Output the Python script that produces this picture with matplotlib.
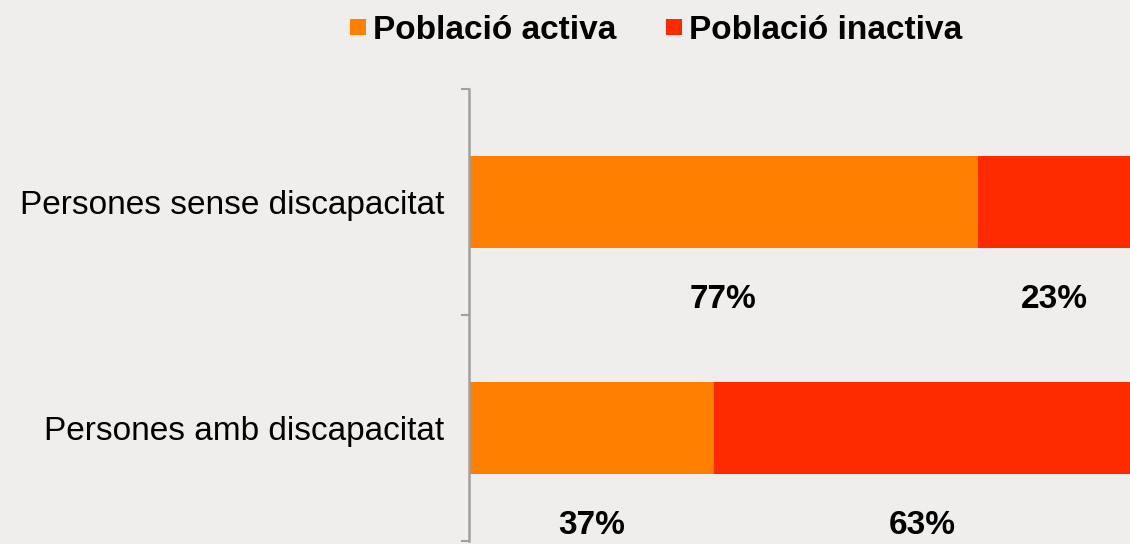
import matplotlib.pyplot as plt
from matplotlib.lines import Line2D

# dades
categories = ['Persones sense discapacitat', 'Persones amb discapacitat']
activa = [77, 37]
inactiva = [23, 63]
series_names = ['Població activa', 'Població inactiva']
colors = ['#ff7f00', '#ff2b00']

plt.rcParams['font.family'] = ['Liberation Sans', 'DejaVu Sans']

fig = plt.figure(figsize=(11.3, 5.44), dpi=100)
fig.patch.set_facecolor('#efeeec')
ax = fig.add_axes([469 / 1130, 3 / 544, 1 - 469 / 1130, 452 / 544])
ax.set_facecolor('none')

y = list(range(len(categories)))
act = [v / 100 for v in activa]
inact = [v / 100 for v in inactiva]
ax.barh(y, act, height=0.41, color=colors[0])
ax.barh(y, inact, left=act, height=0.41, color=colors[1])

# etiquetes de percentatge sota les barres
for i in y:
    ax.text(act[i] / 2, i + 0.43, f'{activa[i]}%', ha='center', va='center',
            fontsize=24, fontweight='bold', clip_on=False)
    ax.text(act[i] + inact[i] / 2, i + 0.43, f'{inactiva[i]}%', ha='center', va='center',
            fontsize=24, fontweight='bold', clip_on=False)

ax.set_xlim(0, 1)
ax.set_ylim(1.5, -0.5)
ax.set_yticks([-0.5, 0.5, 1.5])
ax.set_yticklabels([])
ax.set_yticks(y, minor=True)
ax.set_yticklabels(categories, minor=True, fontsize=24)
ax.tick_params(axis='y', which='major', length=6, width=1.5, color='#a0a0a0')
ax.tick_params(axis='y', which='minor', length=0, pad=18)
ax.set_xticks([])
for s in ['top', 'right', 'bottom']:
    ax.spines[s].set_visible(False)
ax.spines['left'].set_color('#a0a0a0')
ax.spines['left'].set_linewidth(1.8)

handles = [Line2D([], [], marker='s', linestyle='none', markersize=11.5,
                  markeredgewidth=0, color=c) for c in colors]
leg = fig.legend(handles, series_names, loc='center', bbox_to_anchor=(656 / 1130, 1 - 30 / 544),
                 ncol=2, frameon=False, handlelength=0.5, handletextpad=0.21,
                 columnspacing=1.47, prop={'size': 24, 'weight': 'bold'})

fig.savefig('out.png', dpi=100, facecolor=fig.get_facecolor())
